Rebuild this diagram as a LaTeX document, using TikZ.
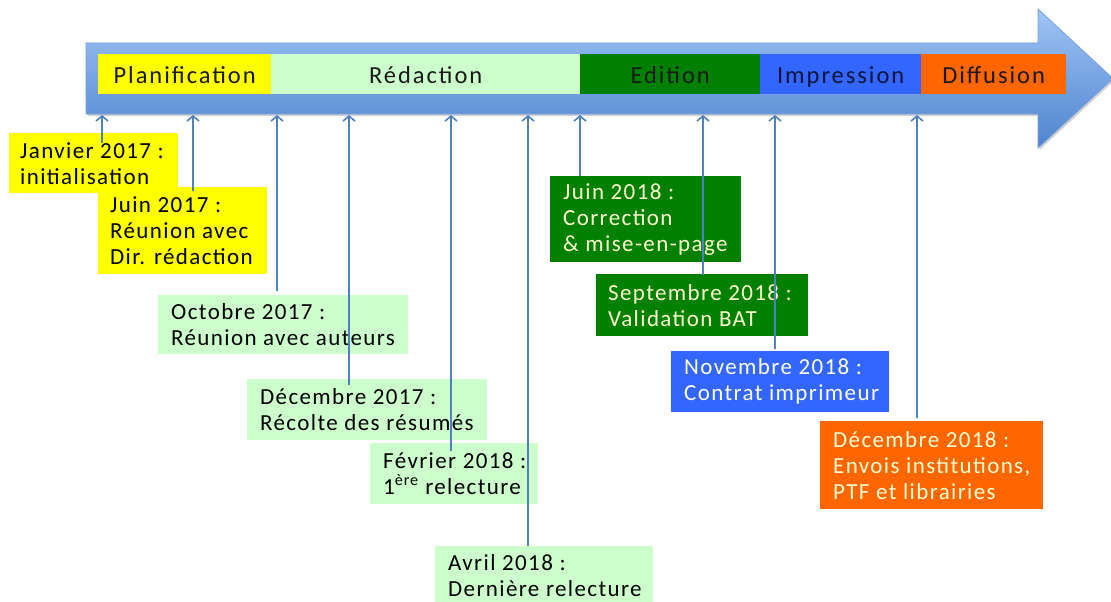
\documentclass[tikz,border=0pt]{standalone}
\usepackage{fontspec}
\setmainfont{Carlito}
\newfontfamily\evfont{Carlito}[LetterSpace=6]
\newfontfamily\bandfont{Carlito}[LetterSpace=8]
\usetikzlibrary{arrows.meta,shadows,calc}
\definecolor{tickc}{RGB}{79,129,189}
\definecolor{arrtop}{RGB}{160,196,246}
\definecolor{arrbot}{RGB}{78,132,206}
\definecolor{arredge}{RGB}{120,160,220}
\definecolor{yellowc}{RGB}{255,255,0}
\definecolor{lgreen}{RGB}{204,255,204}
\definecolor{dgreen}{RGB}{0,128,0}
\definecolor{bluec}{RGB}{51,102,255}
\definecolor{orangec}{RGB}{255,102,0}
\definecolor{cream}{RGB}{255,255,210}
\begin{document}
\begin{tikzpicture}[x=1pt,y=-1pt,
  evbox/.style={draw=none, anchor=north west, inner sep=0pt},
  evtext/.style={anchor=west, align=left, inner sep=0pt, font=\evfont\fontsize{23}{26}\selectfont},
  band/.style={anchor=north west, minimum height=40pt, inner sep=0pt, text height=22pt, text depth=4pt, font=\bandfont\fontsize{24.5}{26}\selectfont, text=black!90},
  tick/.style={draw=tickc, line width=2pt, {Straight Barb[length=5pt,width=12pt,line width=1.6pt]}-}
]
\useasboundingbox (0,0) rectangle (1111,602);

% main arrow
\path[top color=arrtop, bottom color=arrbot, draw=arredge, line width=0.8pt,
      drop shadow={shadow xshift=1.5pt, shadow yshift=-2pt, opacity=0.3, fill=black!60}]
  (86,43) -- (1038,43) -- (1038,9) -- (1113,78.5) -- (1038,148) -- (1038,114) -- (86,114) -- cycle;

% phases
\node[band, fill=yellowc, minimum width=173pt] (plan) at (98,54) {Planification};
\node[band, fill=lgreen, minimum width=309pt] (redac) at (271,54) {Rédaction};
\node[band, fill=dgreen, minimum width=180pt] (edit) at (580,54) {Edition};
\node[band, fill=bluec, minimum width=161pt, text={rgb,255:red,10;green,20;blue,60}] (impr) at (760,54) {Impression};
\node[band, fill=orangec, minimum width=145pt] (diff) at (921,54) {Diffusion};

% event boxes
\node[evbox, fill=yellowc, minimum width=169pt, minimum height=60pt] (janv) at (9,133) {};
\node[evtext, text=black] (janvT) at ([xshift=11pt]janv.west) {Janvier 2017 :\\initialisation};

\node[evbox, fill=yellowc, minimum width=169pt, minimum height=87pt] (juin17) at (98,187) {};
\node[evtext, text=black] (juin17T) at ([xshift=12pt]juin17.west) {Juin 2017 :\\Réunion avec\\Dir. rédaction};

\node[evbox, fill=lgreen, minimum width=250pt, minimum height=59pt] (oct17) at (158,295) {};
\node[evtext, text=black] (oct17T) at ([xshift=13pt]oct17.west) {Octobre 2017 :\\Réunion avec auteurs};

\node[evbox, fill=lgreen, minimum width=240pt, minimum height=61pt] (dec17) at (247,379) {};
\node[evtext, text=black] (dec17T) at ([xshift=13pt]dec17.west) {Décembre 2017 :\\Récolte des résumés};

\node[evbox, fill=lgreen, minimum width=168pt, minimum height=61pt] (fev18) at (370,443) {};
\node[evtext, text=black] (fev18T) at ([xshift=13pt]fev18.west) {Février 2018 :\\1\textsuperscript{ère} relecture};

\node[evbox, fill=lgreen, minimum width=218pt, minimum height=58pt] (avr18) at (435,546) {};
\node[evtext, text=black] (avr18T) at ([xshift=13pt]avr18.west) {Avril 2018 :\\Dernière relecture};

\node[evbox, fill=dgreen, minimum width=191pt, minimum height=86pt] (juin18) at (550,176) {};
\node[evtext, text=cream] (juin18T) at ([xshift=13pt]juin18.west) {Juin 2018 :\\Correction\\\& mise-en-page};

\node[evbox, fill=dgreen, minimum width=212pt, minimum height=62pt] (sep18) at (596,274) {};
\node[evtext, text=cream] (sep18T) at ([xshift=12pt]sep18.west) {Septembre 2018 :\\Validation BAT};

\node[evbox, fill=bluec, minimum width=218pt, minimum height=61pt] (nov18) at (671,351) {};
\node[evtext, text=white] (nov18T) at ([xshift=13pt]nov18.west) {Novembre 2018 :\\Contrat imprimeur};

\node[evbox, fill=orangec, minimum width=223pt, minimum height=88pt] (dec18) at (820,421) {};
\node[evtext, text=cream] (dec18T) at ([xshift=13pt]dec18.west) {Décembre 2018 :\\Envois institutions,\\PTF et librairies};

% tick points on the arrow
\coordinate (t1) at (102,115);
\coordinate (t2) at (193,115);
\coordinate (t3) at (277,115);
\coordinate (t4) at (349,115);
\coordinate (t5) at (451,115);
\coordinate (t6) at (528,115);
\coordinate (t7) at (580,115);
\coordinate (t8) at (703,115);
\coordinate (t9) at (775,115);
\coordinate (t10) at (917,115);

\draw[tick] (t1) -- ($(t1 |- janv.north)+(0,10)$);
\draw[tick] (t2) -- ($(t2 |- juin17.north)+(0,4)$);
\draw[tick] (t3) -- ($(t3 |- oct17.north)+(0,-4)$);
\draw[tick] (t4) -- ($(t4 |- dec17.north)+(0,6)$);
\draw[tick] (t5) -- ($(t5 |- fev18.north)+(0,8)$);
\draw[tick] (t6) -- (t6 |- avr18.north);
\draw[tick] (t7) -- (t7 |- juin18.north);
\draw[tick] (t8) -- ($(t8 |- sep18.north)+(0,1)$);
\draw[tick] (t9) -- ($(t9 |- nov18.north)+(0,-2)$);
\draw[tick] (t10) -- ($(t10 |- dec18.north)+(0,-3)$);
\end{tikzpicture}
\end{document}
